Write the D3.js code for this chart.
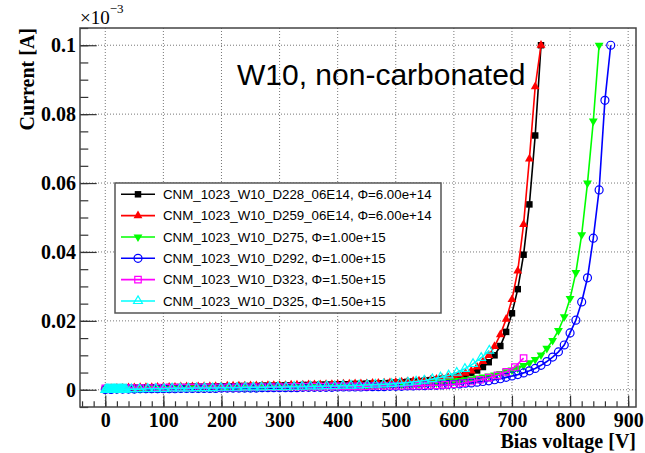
<!DOCTYPE html>
<html>
<head>
<meta charset="utf-8">
<script src="https://cdn.jsdelivr.net/npm/d3@7"></script>
<style>
  body { margin: 0; background: #fff; }
</style>
</head>
<body>
<script>
// axis tick labels
var xTicks = [0, 100, 200, 300, 400, 500, 600, 700, 800, 900];
var yTicks = [0, 0.02, 0.04, 0.06, 0.08, 0.1];

// voltage grids (V)
var vStep10 = [0,10,20,30,40,50,60,70,80,90,100,110,120,130,140,150,160,170,180,190,
  200,210,220,230,240,250,260,270,280,290,300,310,320,330,340,350,360,370,380,390,
  400,410,420,430,440,450,460,470,480,490,500,510,520,530,540,550,560,570,580,590,
  600,610,620,630,640,650,660,670,680,690,700,710,720,730,740,750,760,770,780,790,
  800,810,820,830,840,850,860,870];
var vD323 = [0,15,30,45,60,75,90,105,120,135,150,165,180,195,210,225,240,255,270,285,
  300,315,330,345,360,375,390,405,420,435,450,465,480,495,510,525,540,555,570,585,
  600,615,630,645,660,675,690,705,720];
var vD325 = [0,2,4,6,8,10,12,14,16,18,20,22,24,26,28,30,32,34,36,
  45,59,73,87,101,115,129,143,157,171,185,199,213,227,241,255,269,283,297,311,
  325,339,353,367,381,395,409,423,437,451,465,479,493,507,521,535,549,563,577,591,
  605,619,633,647,661];

// currents (x10^-3 A)
var iD228 = [0.0002,0.0003,0.0004,0.0005,0.0005,0.0006,0.0006,0.0006,0.0007,0.0007,
  0.0007,0.0008,0.0008,0.0008,0.0008,0.0009,0.0009,0.0009,0.0009,0.0010,
  0.0010,0.0010,0.0010,0.0011,0.0011,0.0011,0.0011,0.0012,0.0012,0.0012,
  0.0012,0.0013,0.0013,0.0013,0.0014,0.0014,0.0014,0.0015,0.0015,0.0015,
  0.0016,0.0016,0.0016,0.0017,0.0017,0.0018,0.0018,0.0019,0.0019,0.0020,
  0.0021,0.0022,0.0023,0.0024,0.0025,0.0027,0.0028,0.0030,0.0032,0.0034,
  0.0037,0.0040,0.0044,0.0049,0.0056,0.0066,0.0080,0.0100,0.0127,0.0168,
  0.0222,0.0292,0.0392,0.0538,0.0738,0.1000];
var iD259 = [0.0003,0.0004,0.0005,0.0005,0.0006,0.0006,0.0007,0.0007,0.0007,0.0008,
  0.0008,0.0008,0.0008,0.0009,0.0009,0.0009,0.0009,0.0010,0.0010,0.0010,
  0.0010,0.0011,0.0011,0.0011,0.0011,0.0012,0.0012,0.0012,0.0013,0.0013,
  0.0013,0.0013,0.0014,0.0014,0.0014,0.0015,0.0015,0.0015,0.0016,0.0016,
  0.0016,0.0017,0.0017,0.0018,0.0018,0.0018,0.0019,0.0019,0.0020,0.0021,
  0.0022,0.0023,0.0024,0.0025,0.0026,0.0028,0.0029,0.0031,0.0033,0.0036,
  0.0039,0.0043,0.0048,0.0055,0.0066,0.0082,0.0100,0.0126,0.0160,0.0205,
  0.0262,0.0345,0.0480,0.0670,0.0880,0.1000];
var iD275 = [0.0001,0.0002,0.0002,0.0003,0.0003,0.0003,0.0003,0.0004,0.0004,0.0004,
  0.0004,0.0004,0.0005,0.0005,0.0005,0.0005,0.0005,0.0006,0.0006,0.0006,
  0.0006,0.0006,0.0006,0.0007,0.0007,0.0007,0.0007,0.0007,0.0008,0.0008,
  0.0008,0.0008,0.0008,0.0009,0.0009,0.0009,0.0009,0.0010,0.0010,0.0010,
  0.0010,0.0011,0.0011,0.0011,0.0012,0.0012,0.0012,0.0013,0.0013,0.0014,
  0.0014,0.0015,0.0016,0.0016,0.0017,0.0018,0.0019,0.0020,0.0022,0.0023,
  0.0025,0.0027,0.0029,0.0031,0.0034,0.0037,0.0040,0.0043,0.0047,0.0052,
  0.0057,0.0063,0.0070,0.0078,0.0088,0.0101,0.0120,0.0143,0.0172,0.0212,
  0.0265,0.0340,0.0450,0.0600,0.0780,0.1000];
var iD292 = [0.0001,0.0001,0.0002,0.0002,0.0002,0.0002,0.0003,0.0003,0.0003,0.0003,
  0.0003,0.0003,0.0003,0.0004,0.0004,0.0004,0.0004,0.0004,0.0004,0.0004,
  0.0005,0.0005,0.0005,0.0005,0.0005,0.0005,0.0005,0.0006,0.0006,0.0006,
  0.0006,0.0006,0.0006,0.0006,0.0007,0.0007,0.0007,0.0007,0.0007,0.0007,
  0.0008,0.0008,0.0008,0.0008,0.0008,0.0009,0.0009,0.0009,0.0009,0.0010,
  0.0010,0.0010,0.0011,0.0011,0.0012,0.0012,0.0013,0.0013,0.0014,0.0015,
  0.0016,0.0017,0.0019,0.0020,0.0022,0.0024,0.0026,0.0029,0.0032,0.0036,
  0.0040,0.0044,0.0049,0.0055,0.0062,0.0071,0.0082,0.0095,0.0110,0.0130,
  0.0165,0.0202,0.0255,0.0325,0.0440,0.0580,0.0840,0.1000];
var iD323 = [0.0004,0.0004,0.0005,0.0005,0.0005,0.0005,0.0006,0.0006,0.0006,0.0006,
  0.0006,0.0007,0.0007,0.0007,0.0007,0.0007,0.0008,0.0008,0.0008,0.0008,
  0.0008,0.0009,0.0009,0.0009,0.0009,0.0009,0.0010,0.0010,0.0010,0.0010,
  0.0010,0.0011,0.0011,0.0011,0.0011,0.0012,0.0012,0.0013,0.0013,0.0014,
  0.0016,0.0019,0.0024,0.0029,0.0035,0.0042,0.0052,0.0066,0.0092];
var iD325 = [0.0000,0.0001,0.0001,0.0001,0.0001,0.0001,0.0001,0.0001,0.0001,0.0001,
  0.0001,0.0001,0.0001,0.0001,0.0001,0.0001,0.0001,0.0001,0.0001,
  0.0002,0.0002,0.0003,0.0003,0.0003,0.0004,0.0004,0.0004,0.0005,0.0005,
  0.0005,0.0006,0.0006,0.0006,0.0007,0.0007,0.0007,0.0008,0.0008,0.0008,
  0.0009,0.0009,0.0010,0.0010,0.0011,0.0011,0.0012,0.0012,0.0013,0.0014,
  0.0015,0.0016,0.0017,0.0019,0.0021,0.0024,0.0027,0.0031,0.0036,0.0042,
  0.0050,0.0061,0.0075,0.0093,0.0114];

var seriesNames = [
  "CNM_1023_W10_D228_06E14, \u03a6=6.00e+14",
  "CNM_1023_W10_D259_06E14, \u03a6=6.00e+14",
  "CNM_1023_W10_D275, \u03a6=1.00e+15",
  "CNM_1023_W10_D292, \u03a6=1.00e+15",
  "CNM_1023_W10_D323, \u03a6=1.50e+15",
  "CNM_1023_W10_D325, \u03a6=1.50e+15"
];

function main() {
  function pairs(vs, is) { return is.map(function(c, k) { return [vs[k], c]; }); }

  var series = [
    { name: seriesNames[0], color: "#000000", shape: "square", filled: true,  pts: pairs(vStep10, iD228) },
    { name: seriesNames[1], color: "#ff0000", shape: "tri",    filled: true,  pts: pairs(vStep10, iD259) },
    { name: seriesNames[2], color: "#00ff00", shape: "trid",   filled: true,  pts: pairs(vStep10, iD275) },
    { name: seriesNames[3], color: "#0000ff", shape: "circle", filled: false, pts: pairs(vStep10, iD292) },
    { name: seriesNames[4], color: "#ff00ff", shape: "square", filled: false, pts: pairs(vD323, iD323) },
    { name: seriesNames[5], color: "#00ffff", shape: "tri",    filled: false, pts: pairs(vD325, iD325) }
  ];

  var width = 645, height = 453;
  var fL = 80, fR = 636, fT = 28, fB = 407;

  var svg = d3.select("body").append("svg")
    .attr("width", width).attr("height", height);

  var x = d3.scaleLinear().domain([-43.5, 913.5]).range([fL, fR]);
  var y = d3.scaleLinear().domain([-0.005, 0.105]).range([fB, fT]);

  // grid
  svg.append("g").selectAll("line").data(xTicks).enter().append("line")
    .attr("x1", function(d) { return x(d); }).attr("x2", function(d) { return x(d); })
    .attr("y1", fT).attr("y2", fB)
    .attr("stroke", "#777").attr("stroke-width", 1).attr("stroke-dasharray", "1,2");
  svg.append("g").selectAll("line").data(yTicks).enter().append("line")
    .attr("y1", function(d) { return y(d); }).attr("y2", function(d) { return y(d); })
    .attr("x1", fL).attr("x2", fR)
    .attr("stroke", "#777").attr("stroke-width", 1).attr("stroke-dasharray", "1,2");

  // axes, ticks drawn inside the frame like ROOT
  var xMinor = d3.range(-40, 901, 20);
  var yMinor = d3.range(-5, 106, 5).map(function(d) { return d / 1000; });

  function styleAxis(g) {
    g.select(".domain").remove();
    g.selectAll("line").attr("stroke", "#333").attr("stroke-width", 1.2);
    g.selectAll("text").attr("fill", "#000");
    g.attr("font-family", "'Liberation Serif', 'DejaVu Serif', serif")
     .attr("font-weight", "bold").attr("font-size", 20);
  }

  svg.append("g").attr("transform", "translate(0," + fB + ")")
    .call(d3.axisBottom(x).tickValues(xMinor).tickSizeInner(-5.7).tickSizeOuter(0).tickFormat(""))
    .call(styleAxis);
  svg.append("g").attr("transform", "translate(0," + fB + ")")
    .call(d3.axisBottom(x).tickValues(xTicks).tickSizeInner(-11.4).tickSizeOuter(0).tickPadding(5.5)
      .tickFormat(d3.format("d")))
    .call(styleAxis);

  svg.append("g").attr("transform", "translate(" + fL + ",0)")
    .call(d3.axisLeft(y).tickValues(yMinor).tickSizeInner(-8.3).tickSizeOuter(0).tickFormat(""))
    .call(styleAxis);
  svg.append("g").attr("transform", "translate(" + fL + ",0)")
    .call(d3.axisLeft(y).tickValues(yTicks).tickSizeInner(-16.7).tickSizeOuter(0).tickPadding(4)
      .tickFormat(function(d) { return String(+d.toFixed(2)); }))
    .call(styleAxis);

  // frame
  svg.append("rect")
    .attr("x", fL).attr("y", fT).attr("width", fR - fL).attr("height", fB - fT)
    .attr("fill", "none").attr("stroke", "#444").attr("stroke-width", 1.5);

  // axis titles
  svg.append("text")
    .attr("x", fR).attr("y", 448).attr("text-anchor", "end")
    .attr("font-family", "'Liberation Serif', serif").attr("font-weight", "bold").attr("font-size", 20)
    .text("Bias voltage [V]");
  svg.append("text")
    .attr("transform", "translate(34," + fT + ") rotate(-90)")
    .attr("text-anchor", "end")
    .attr("font-family", "'Liberation Serif', serif").attr("font-weight", "bold").attr("font-size", 20)
    .text("Current [A]");

  var expo = svg.append("text")
    .attr("x", 80).attr("y", 24)
    .attr("font-family", "'Liberation Serif', serif").attr("font-size", 19);
  expo.append("tspan").text("\u00d710");
  expo.append("tspan").attr("dy", -11).attr("font-size", 13).text("\u22123");

  // text label
  svg.append("text")
    .attr("x", 237).attr("y", 85)
    .attr("font-family", "'Liberation Sans', Arial, sans-serif").attr("font-size", 30)
    .text("W10, non-carbonated");

  // markers
  function symbolPath(shape) {
    if (shape === "square") return d3.symbol().type(d3.symbolSquare).size(42)();
    if (shape === "circle") return d3.symbol().type(d3.symbolCircle).size(50)();
    return d3.symbol().type(d3.symbolTriangle).size(34)();
  }
  function drawMarker(g, s, px, py) {
    var m = g.append("path")
      .attr("d", symbolPath(s.shape))
      .attr("transform", "translate(" + px + "," + py + ")" + (s.shape === "trid" ? " rotate(180)" : ""));
    if (s.filled) m.attr("fill", s.color).attr("stroke", "none");
    else m.attr("fill", "none").attr("stroke", s.color).attr("stroke-width", 1.2);
  }

  var line = d3.line().x(function(d) { return x(d[0]); }).y(function(d) { return y(d[1]); });

  series.forEach(function(s) {
    var g = svg.append("g");
    g.append("path").datum(s.pts)
      .attr("d", line).attr("fill", "none")
      .attr("stroke", s.color).attr("stroke-width", 1.6);
    s.pts.forEach(function(p) { drawMarker(g, s, x(p[0]), y(p[1])); });
  });

  // legend
  var legend = svg.append("g");
  legend.append("rect")
    .attr("x", 115).attr("y", 183).attr("width", 326).attr("height", 130)
    .attr("fill", "#fff").attr("stroke", "#555").attr("stroke-width", 1.5);
  series.forEach(function(s, k) {
    var cy = 194.3 + k * 21.33;
    legend.append("line")
      .attr("x1", 121).attr("x2", 155).attr("y1", cy).attr("y2", cy)
      .attr("stroke", s.color).attr("stroke-width", 1.6);
    drawMarker(legend, s, 138, cy);
    legend.append("text")
      .attr("x", 163).attr("y", cy + 4.7)
      .attr("font-family", "'Liberation Sans', Arial, sans-serif").attr("font-size", 13.3)
      .text(s.name);
  });
}

main();
</script>
</body>
</html>
